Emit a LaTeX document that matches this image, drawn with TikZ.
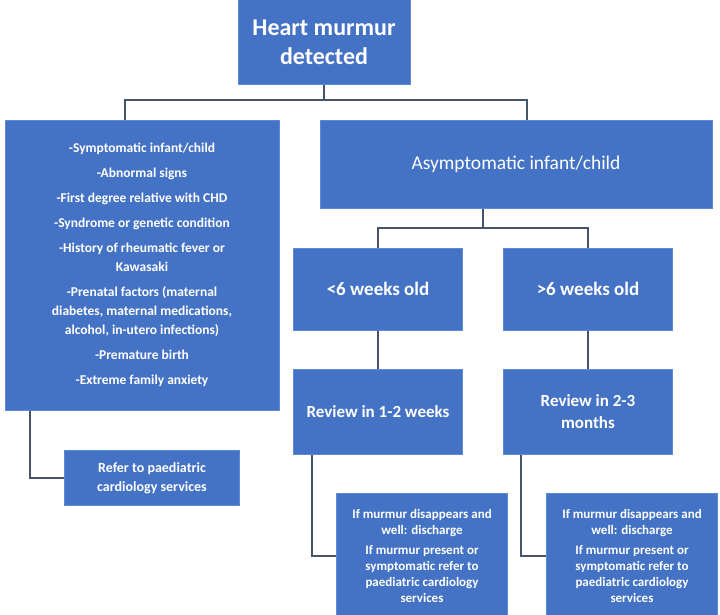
\documentclass[tikz,border=0pt]{standalone}
\usepackage{fontspec}
\setmainfont{Carlito}
\usetikzlibrary{positioning}
\definecolor{boxblue}{HTML}{4472C4}
\definecolor{boxedge}{HTML}{5B8BD8}
\definecolor{linkgray}{HTML}{44546A}
\tikzset{
  box/.style={draw=boxedge, line width=1pt, fill=boxblue, text=white, align=center, inner sep=2pt},
  link/.style={draw=linkgray, line width=1.6pt}
}
\begin{document}
\begin{tikzpicture}[x=1pt,y=-1pt]
  \useasboundingbox (0,0) rectangle (720,614);
  % boxes
  \node[box, minimum width=172, minimum height=85, font=\bfseries\fontsize{24}{29}\selectfont] (murmur) at (324,42) {Heart murmur\\detected};
  \node[box, minimum width=274, minimum height=290, font=\bfseries\fontsize{13.5}{19}\selectfont] (signs) at (142,265)
    {-Symptomatic infant/child\\[6pt]
     -Abnormal signs\\[6pt]
     -First degree relative with CHD\\[6pt]
     -Syndrome  or genetic condition\\[6pt]
     -History of rheumatic fever or\\Kawasaki\\[6pt]
     -Prenatal factors (maternal\\diabetes, maternal medications,\\alcohol, in-utero infections)\\[6pt]
     -Premature birth\\[6pt]
     -Extreme family anxiety};
  \node[box, minimum width=392, minimum height=88, font=\fontsize{19.5}{23}\selectfont] (asym) at (516,164) {Asymptomatic  infant/child};
  \node[box, minimum width=169, minimum height=82, font=\bfseries\fontsize{19}{23}\selectfont] (young) at (378,289) {<6 weeks old};
  \node[box, minimum width=169, minimum height=82, font=\bfseries\fontsize{19}{23}\selectfont] (old) at (588,289) {>6 weeks old};
  \node[box, minimum width=169, minimum height=85, font=\bfseries\fontsize{17}{22}\selectfont] (revyoung) at (378,412) {Review in 1-2 weeks};
  \node[box, minimum width=169, minimum height=85, font=\bfseries\fontsize{17}{22}\selectfont] (revold) at (588,412) {Review in 2-3\\months};
  \node[box, minimum width=175, minimum height=55, font=\bfseries\fontsize{14}{19}\selectfont] (refer) at (152,478) {Refer to paediatric\\cardiology services};
  \node[box, minimum width=171, minimum height=125, font=\bfseries\fontsize{13}{16}\selectfont] (outyoung) at (422,556)
    {If murmur disappears and\\well: discharge\\[4pt]
     If murmur present or\\symptomatic refer to\\paediatric cardiology\\services};
  \node[box, minimum width=171, minimum height=125, font=\bfseries\fontsize{13}{16}\selectfont] (outold) at (632,556)
    {If murmur disappears and\\well: discharge\\[4pt]
     If murmur present or\\symptomatic refer to\\paediatric cardiology\\services};
  % connectors
  \coordinate (split) at (324,100);
  \draw[link] (murmur.south) -- (split);
  \draw[link] (signs.north -| 125,0) |- (split) -| (asym.north -| 527,0);
  \coordinate (split2) at (483,228);
  \draw[link] (asym.south -| 483,0) -- (split2);
  \draw[link] (young.north) |- (split2) -| (old.north);
  \draw[link] (young) -- (revyoung);
  \draw[link] (old) -- (revold);
  \draw[link] (signs.south -| 30,0) |- (refer.west);
  \draw[link] (revyoung.south -| 312,0) |- (outyoung.west |- 0,556);
  \draw[link] (revold.south -| 521,0) |- (outold.west |- 0,556);
\end{tikzpicture}
\end{document}
